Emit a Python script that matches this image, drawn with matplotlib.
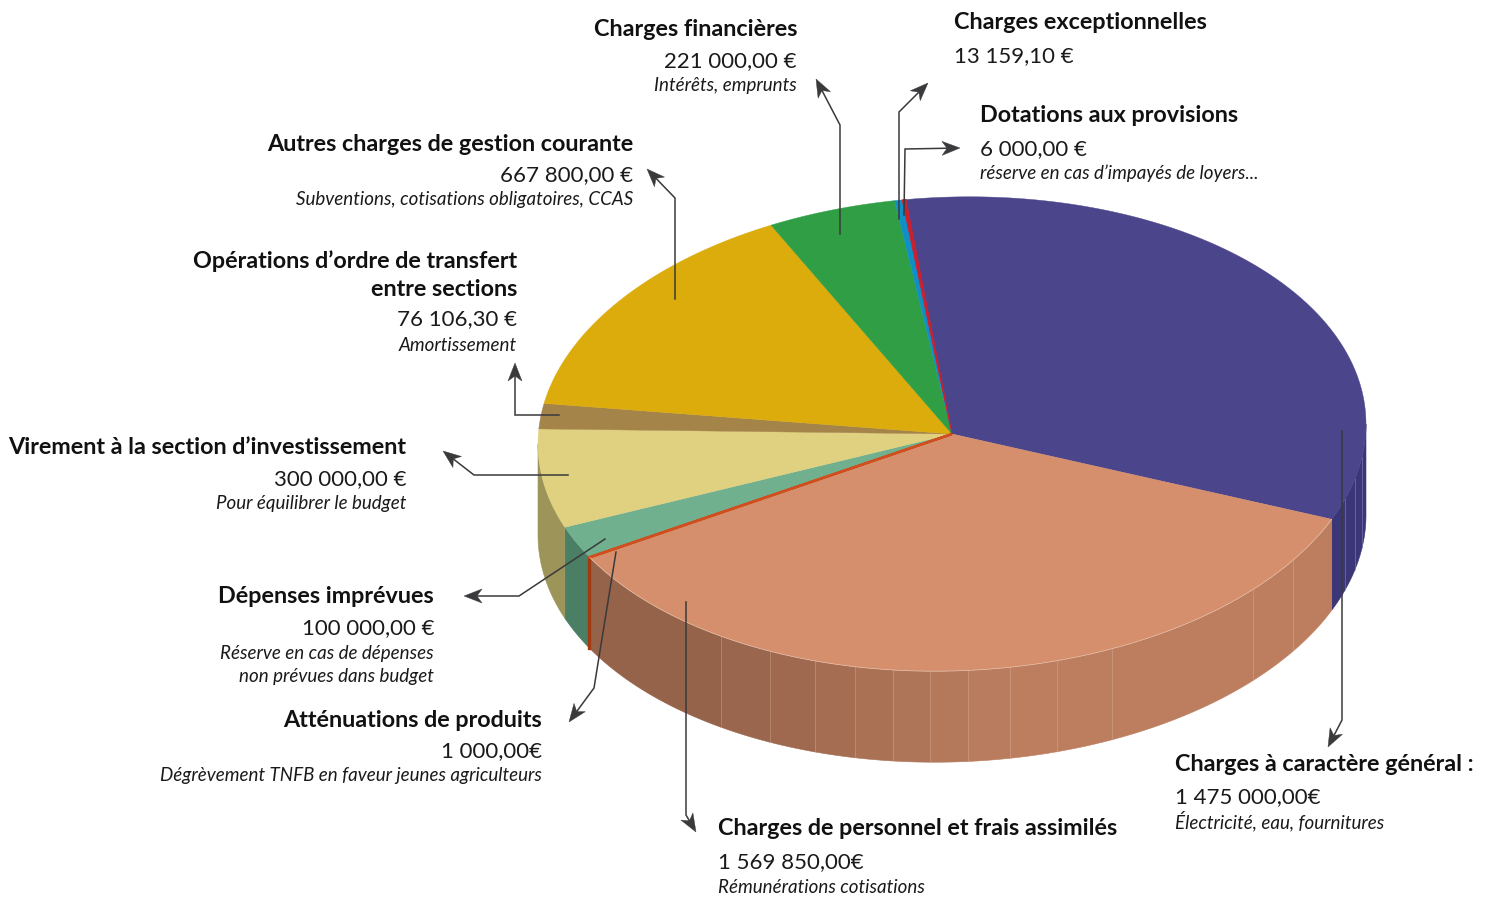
import numpy as np
import matplotlib
matplotlib.use("Agg")
import matplotlib.pyplot as plt
from matplotlib.patches import Polygon
from matplotlib.colors import to_rgb

# budget, dans le sens horaire a partir du haut
categories = ["Charges à caractère général :", "Charges de personnel et frais assimilés",
              "Atténuations de produits", "Dépenses imprévues",
              "Virement à la section d’investissement",
              "Opérations d’ordre de transfert\nentre sections",
              "Autres charges de gestion courante", "Charges financières",
              "Charges exceptionnelles", "Dotations aux provisions"]
values = [1475000.00, 1569850.00, 1000.00, 100000.00, 300000.00,
          76106.30, 667800.00, 221000.00, 13159.10, 6000.00]
amounts = ["1 475 000,00€", "1 569 850,00€", "1 000,00€", "100 000,00 €", "300 000,00 €",
           "76 106,30 €", "667 800,00 €", "221 000,00 €", "13 159,10 €", "6 000,00 €"]
notes = ["Électricité, eau, fournitures", "Rémunérations cotisations",
         "Dégrèvement TNFB en faveur jeunes agriculteurs",
         "Réserve en cas de dépenses\nnon prévues dans budget", "Pour équilibrer le budget",
         "Amortissement", "Subventions, cotisations obligatoires, CCAS", "Intérêts, emprunts",
         "", "réserve en cas d’impayés de loyers..."]
top_colors = ["#4B458C", "#D58F6D", "#CF4F1E", "#70B08F", "#E0D180",
              "#A5844A", "#DCAB0C", "#2F9E44", "#0E8FC6", "#C9202F"]
side_colors = ["#3B3678", "#95624A", "#A23C10", "#4A7F66", "#9C9459",
               "#7F6538", "#A5800A", "#22752F", "#0A6B94", "#96182B"]
# les parts minuscules restent visibles grace a leur contour
edge_widths = [0.3, 0.3, 1.8, 0.3, 0.3, 0.3, 0.3, 0.3, 0.3, 0.8]

# x, ancre, lignes de base (titre, montant, note)
label_pos = [(1175, "left", 771, 803, 828), (718, "left", 835, 868, 893),
             (542, "right", 727, 757, 781), (434, "right", 603, 634, 659),
             (406, "right", 454, 485, 509), (517, "right", 268, 325, 351),
             (633, "right", 151, 181, 205), (797, "right", 36, 67, 91),
             (954, "left", 29, 62, 0), (980, "left", 122, 155, 179)]

leaders = [[(1342, 431), (1342, 720), (1328, 747)], [(686, 602), (686, 815), (696, 832)],
           [(616, 552), (594, 688), (569, 722)], [(605, 539), (519, 596), (464, 596)],
           [(568, 475), (474, 475), (443, 451)], [(559, 415), (515, 415), (515, 363)],
           [(675, 299), (675, 198), (647, 169)], [(840, 234), (840, 125), (816, 79)],
           [(899, 219), (899, 112), (928, 83)], [(904, 215), (905, 149), (960, 148)]]

# facettes du flanc (x des aretes)
personnel_edges = [721, 770, 815, 855, 893, 930, 968, 1010, 1057, 1112, 1253, 1293]
general_edges = [1345, 1355, 1362]

CX, CY, RX, RY, DEPTH = 952, 434, 414, 237, 91
START = 96.4
TILT = 0.024
LINE = "#3A3A3C"

plt.rcParams['font.family'] = ['Lato', 'DejaVu Sans']

fig = plt.figure(figsize=(14.92, 8.97), dpi=100)
ax = fig.add_axes([0, 0, 1, 1])
ax.set_xlim(0, 1492)
ax.set_ylim(897, 0)
ax.axis("off")


def rim(t, dy=0):
    # ellipse un peu penchee : gauche plus basse, droite plus haute
    r = np.radians(t)
    dx = RX * np.cos(r)
    return np.column_stack([CX + dx, CY - RY * np.sin(r) - TILT * dx + dy])


def blend(c1, c2, f):
    return tuple(a + (b - a) * f for a, b in zip(to_rgb(c1), to_rgb(c2)))


def wall(t1, t2, color, z=2):
    ts = np.linspace(t1, t2, 60)
    pts = np.vstack([rim(ts), rim(ts[::-1], DEPTH)])
    ax.add_patch(Polygon(pts, fc=color, ec=color, lw=0.4, zorder=z))


def x_to_t(x):
    return -np.degrees(np.arccos((x - CX) / RX))


# angles des parts, en descendant depuis le haut
shares = np.array(values) / np.sum(values) * 360
bounds = START - np.concatenate([[0], np.cumsum(shares)])

for i in range(len(values)):
    hi, lo = bounds[i], bounds[i + 1]
    # flanc visible : moitie basse seulement
    t1, t2 = max(lo, -180), min(hi, 0)
    if t2 > t1:
        if i == 1:
            edges = [t1] + [x_to_t(x) for x in personnel_edges] + [t2]
            for k in range(len(edges) - 1):
                f = k / (len(edges) - 2)
                wall(edges[k], edges[k + 1], blend("#95624A", "#BC7E5F", min(f * 1.6, 1)))
        else:
            wall(t1, t2, side_colors[i], z=2.2 if i == 2 else 2)
            if i == 2:
                p, q = rim(np.array([t1]))[0], rim(np.array([t1]), DEPTH)[0]
                ax.plot([p[0], q[0]], [p[1], q[1]], color=side_colors[i], lw=2.4, zorder=2.6)
    ts = np.linspace(lo, hi, 120)
    pts = np.vstack([[CX, CY], rim(ts)])
    ax.add_patch(Polygon(pts, fc=top_colors[i], ec=top_colors[i], lw=edge_widths[i],
                         zorder=3.5 if edge_widths[i] > 0.5 else 3))

# aretes claires des facettes et bord clair du dessus
for x in personnel_edges:
    t = x_to_t(x)
    p = rim(np.array([t]))[0]
    q = rim(np.array([t]), DEPTH)[0]
    ax.plot([p[0], q[0]], [p[1], q[1]], color="#E8C4AE", lw=0.6, alpha=0.35, zorder=2.5)
for x in general_edges:
    t = x_to_t(x)
    p = rim(np.array([t]))[0]
    q = rim(np.array([t]), DEPTH)[0]
    ax.plot([p[0], q[0]], [p[1], q[1]], color="#8E8ABF", lw=0.6, alpha=0.6, zorder=2.5)
front = rim(np.linspace(bounds[2], bounds[1], 200))
ax.plot(front[:, 0], front[:, 1], color="#F3E2D6", lw=0.5, alpha=0.6, zorder=3.6)


def arrow_head(p0, tip, length=18, width=7):
    d = np.array(tip, float) - np.array(p0, float)
    d = d / np.hypot(*d)
    n = np.array([-d[1], d[0]])
    tip = np.array(tip, float)
    base = tip - d * length
    notch = tip - d * length * 0.72
    ax.add_patch(Polygon([tip, base + n * width, notch, base - n * width],
                         fc=LINE, ec=LINE, lw=0.3, zorder=6))


for path in leaders:
    xs, ys = zip(*path)
    d = np.array(path[-1], float) - np.array(path[-2], float)
    d = d / np.hypot(*d) * 12
    ax.plot(list(xs[:-1]) + [xs[-1] - d[0]], list(ys[:-1]) + [ys[-1] - d[1]],
            color=LINE, lw=1.1, solid_joinstyle="miter", zorder=5)
    arrow_head(path[-2], path[-1])

for i, name in enumerate(categories):
    x, ha, y_title, y_amount, y_note = label_pos[i]
    lines = name.split("\n")
    for j, line in enumerate(lines):
        ax.text(x, y_title + j * 28, line, ha=ha, va="baseline", fontsize=16.8,
                fontweight="bold", color="#111111", zorder=7)
    ax.text(x, y_amount, amounts[i], ha=ha, va="baseline", fontsize=16,
            color="#1A1A1A", zorder=7)
    if notes[i]:
        for j, line in enumerate(notes[i].split("\n")):
            ax.text(x, y_note + j * 23, line, ha=ha, va="baseline", fontsize=13.5,
                    fontstyle="italic", color="#1A1A1A", zorder=7)

fig.savefig("out.png", dpi=100)
